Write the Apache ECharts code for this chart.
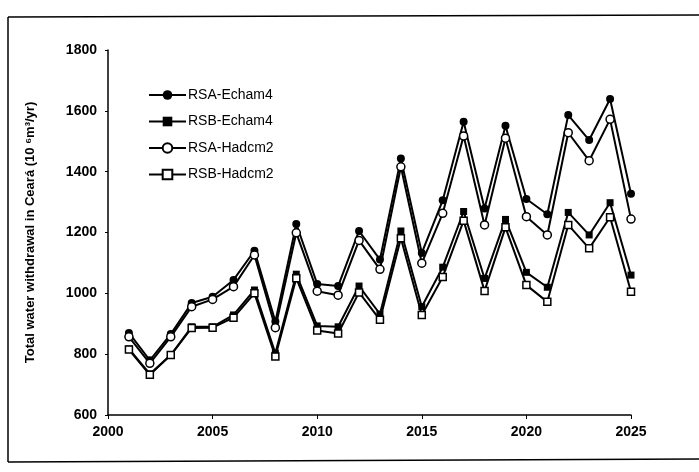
<!DOCTYPE html>
<html>
<head>
<meta charset="utf-8">
<script src="https://cdn.jsdelivr.net/npm/echarts@6/dist/echarts.min.js"></script>
<style>html,body{margin:0;padding:0;background:#fff;}#c{width:699px;height:472px;}</style>
</head>
<body>
<div id="c"></div>
<script>
const years = [2001,2002,2003,2004,2005,2006,2007,2008,2009,2010,2011,2012,2013,2014,2015,2016,2017,2018,2019,2020,2021,2022,2023,2024,2025];
const rsaEcham4 = [870,780,866,968,989,1044,1140,907,1228,1031,1024,1205,1111,1443,1133,1306,1564,1279,1551,1310,1260,1586,1504,1639,1327];
const rsbEcham4 = [817,735,797,890,890,929,1011,803,1063,893,890,1024,932,1205,956,1086,1269,1049,1243,1069,1020,1266,1192,1298,1060];
const rsaHadcm2 = [857,770,857,956,980,1022,1126,887,1199,1007,994,1174,1079,1416,1099,1263,1517,1225,1510,1252,1192,1528,1436,1572,1244];
const rsbHadcm2 = [815,732,797,886,887,920,1000,792,1050,878,868,1003,913,1181,929,1054,1239,1008,1217,1027,972,1225,1148,1250,1005];
const seriesNames = ['RSA-Echam4','RSB-Echam4','RSA-Hadcm2','RSB-Hadcm2'];
const xTicks = [2000,2005,2010,2015,2020,2025];
const yTicks = [600,800,1000,1200,1400,1600,1800];

function pairs(vals){ return years.map((y,i)=>[y, vals[i]]); }
function mk(name, vals, symbol, filled){
  return {
    name: name, type: 'line', data: pairs(vals),
    symbol: symbol, symbolSize: symbol==='circle'?8:7,
    showSymbol: true,
    lineStyle: {color:'#000', width: 2},
    itemStyle: {color: filled ? '#000' : '#fff', borderColor:'#000', borderWidth: filled?0:1.5},
    emphasis: {disabled:true},
    animation: false
  };
}
const chart = echarts.init(document.getElementById('c'));
chart.setOption({
  backgroundColor:'#fff',
  animation:false,
  grid:{left:108, right:68, top:50, height:365},
  legend:{
    orient:'vertical', left:143, top:83, itemWidth:37, itemHeight:12, itemGap:12.5,
    data: seriesNames,
    textStyle:{fontFamily:'Liberation Sans', fontSize:14, color:'#000', padding:[0,0,0,-3]}
  },
  xAxis:{
    type:'value', min:xTicks[0], max:xTicks[xTicks.length-1], interval:5,
    axisLine:{lineStyle:{color:'#000', width:1.5}},
    axisTick:{show:true, length:4, lineStyle:{color:'#000'}},
    splitLine:{show:false},
    axisLabel:{color:'#000', fontFamily:'Liberation Sans', fontWeight:'bold', fontSize:14, margin:10, formatter: v => String(v)}
  },
  yAxis:{
    type:'value', min:yTicks[0], max:yTicks[yTicks.length-1], interval:200,
    name:'Total water withdrawal in Ceará (10 \u2076m\u00B3/yr)',
    nameLocation:'middle', nameGap:71,
    nameTextStyle:{color:'#000', fontFamily:'Liberation Sans', fontWeight:'bold', fontSize:13},
    axisLine:{show:true, lineStyle:{color:'#000', width:1.5}},
    axisTick:{show:true, length:3, lineStyle:{color:'#000'}},
    splitLine:{show:false},
    axisLabel:{color:'#000', fontFamily:'Liberation Sans', fontWeight:'bold', fontSize:14, margin:11, formatter: v => String(v)}
  },
  series:[
    mk(seriesNames[0], rsaEcham4, 'circle', true),
    mk(seriesNames[1], rsbEcham4, 'rect', true),
    mk(seriesNames[2], rsaHadcm2, 'circle', false),
    mk(seriesNames[3], rsbHadcm2, 'rect', false)
  ],
  graphic:[
    {type:'line', shape:{x1:8,y1:17,x2:699,y2:15}, style:{stroke:'#000', lineWidth:1.5}},
    {type:'line', shape:{x1:8,y1:17,x2:8,y2:462}, style:{stroke:'#000', lineWidth:1.5}},
    {type:'line', shape:{x1:8,y1:462,x2:699,y2:459}, style:{stroke:'#000', lineWidth:1.5}}
  ]
});
</script>
</body>
</html>
